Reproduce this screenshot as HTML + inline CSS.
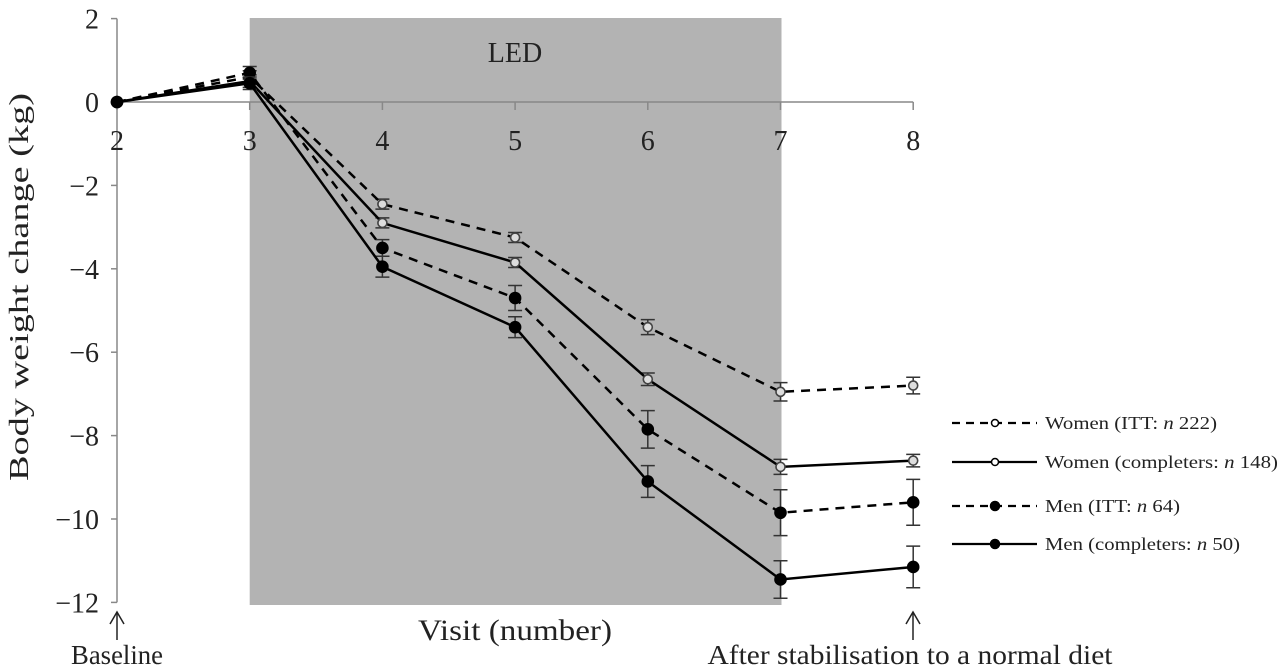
<!DOCTYPE html>
<html><head><meta charset="utf-8"><style>
html,body{margin:0;padding:0;background:#fff;}
svg{display:block;font-family:"Liberation Serif",serif;}
</style></head><body>
<svg id="chart" width="1286" height="668" viewBox="0 0 1286 668" xmlns="http://www.w3.org/2000/svg"></svg>
<script>
const visits = [2,3,4,5,6,7,8];
const yTicks = [2,0,-2,-4,-6,-8,-10,-12];
const yTickLabels = ["2","0","\u22122","\u22124","\u22126","\u22128","\u221210","\u221212"];
const womenITT = [0,0.6,-2.45,-3.25,-5.4,-6.95,-6.8];
const womenITTErr = [0,0.15,0.12,0.12,0.18,0.22,0.2];
const womenComp = [0,0.5,-2.9,-3.85,-6.65,-8.75,-8.6];
const womenCompErr = [0,0.15,0.12,0.12,0.15,0.18,0.15];
const menITT = [0,0.7,-3.5,-4.7,-7.85,-9.85,-9.6];
const menITTErr = [0,0.15,0.2,0.3,0.45,0.55,0.55];
const menComp = [0,0.45,-3.95,-5.4,-9.1,-11.45,-11.15];
const menCompErr = [0,0.15,0.25,0.25,0.38,0.45,0.5];
const seriesNames = ["Women (ITT: ","Women (completers: ","Men (ITT: ","Men (completers: "];
const seriesN = ["222","148","64","50"];

const svg = document.getElementById('chart');
const NS = 'http://www.w3.org/2000/svg';
const X = v => 117 + (v-2)*132.7;
const Y = v => 102 - v*41.7;
function el(tag, attrs, parent){
  const e = document.createElementNS(NS, tag);
  for (const k in attrs) e.setAttribute(k, attrs[k]);
  (parent||svg).appendChild(e);
  return e;
}
let r = el('rect',{x:X(3),y:18,width:X(7)-X(3)+1,height:605-18,fill:'#b3b3b3'});


let t = el('text',{x:515,y:62,'font-size':28,'text-anchor':'middle',fill:'#222'});
t.textContent='LED';


let ya = el('line',{x1:117,y1:Y(2),x2:117,y2:Y(-12),stroke:'#888','stroke-width':1.5});


let xa = el('line',{x1:117,y1:Y(0),x2:X(8),y2:Y(0),stroke:'#888','stroke-width':1.5});


yTicks.forEach((v,i)=>{
  el('line',{x1:111,y1:Y(v),x2:117,y2:Y(v),stroke:'#888','stroke-width':1.5});
  const tl = el('text',{x:99,y:Y(v)+10,'font-size':28,'text-anchor':'end',fill:'#222'});
  tl.textContent = yTickLabels[i];
  
  
});
visits.forEach(v=>{
  el('line',{x1:X(v),y1:Y(0),x2:X(v),y2:Y(0)+8,stroke:'#888','stroke-width':1.5});
  const tl = el('text',{x:X(v),y:Y(0)+48,'font-size':28,'text-anchor':'middle',fill:'#222'});
  tl.textContent = String(v);
  
  
});
let yt = el('text',{x:0,y:0,'font-size':27,'text-anchor':'middle',fill:'#222',transform:'translate(28,287) rotate(-90)',textLength:388,lengthAdjust:'spacingAndGlyphs'});
yt.textContent='Body weight change (kg)';


let xt = el('text',{x:515,y:640,'font-size':30,'text-anchor':'middle',fill:'#222',textLength:194,lengthAdjust:'spacingAndGlyphs'});
xt.textContent='Visit (number)';


function arrow(x,name){
  const g = el('g',{stroke:'#222','stroke-width':1.5,fill:'none'});
  
  
  el('line',{x1:x,y1:612,x2:x,y2:640},g);
  el('polyline',{points:`${x-7},${624} ${x},${612} ${x+7},${624}`},g);
}
arrow(117,'baseline-arrow');
arrow(913,'stabilisation-arrow');
let bl = el('text',{x:117,y:664,'font-size':27,'text-anchor':'middle',fill:'#222',textLength:92,lengthAdjust:'spacingAndGlyphs'});
bl.textContent='Baseline';


let sl = el('text',{x:910,y:664,'font-size':27,'text-anchor':'middle',fill:'#222',textLength:405,lengthAdjust:'spacingAndGlyphs'});
sl.textContent='After stabilisation to a normal diet';



const series = [
  {vals:womenITT, err:womenITTErr, dash:'9,7', filled:false, name:'women-itt'},
  {vals:womenComp, err:womenCompErr, dash:'', filled:false, name:'women-completers'},
  {vals:menITT, err:menITTErr, dash:'9,7', filled:true, name:'men-itt'},
  {vals:menComp, err:menCompErr, dash:'', filled:true, name:'men-completers'}
];
series.forEach(s=>{
  const g = el('g',{});
  
  
  s.vals.forEach((v,i)=>{
    if (!s.err[i]) return;
    const x = X(visits[i]), y1 = Y(v+s.err[i]), y2 = Y(v-s.err[i]);
    const eb = el('path',{d:`M${x},${y1}V${y2}M${x-7},${y1}H${x+7}M${x-7},${y2}H${x+7}`,stroke:'#333','stroke-width':1.5,fill:'none'},g);
    
    
  });
  const pts = s.vals.map((v,i)=>X(visits[i])+','+Y(v)).join(' ');
  const line = el('polyline',{points:pts,fill:'none',stroke:'#000','stroke-width':2.5,'stroke-dasharray':s.dash},g);
  
  
  s.vals.forEach((v,i)=>{
    const c = el('circle',{cx:X(visits[i]),cy:Y(v),r:s.filled?5.5:4.5,fill:s.filled?'#000':'#ddd',stroke:s.filled?'#000':'#444','stroke-width':1.6},g);
    
    
  });
});
const legY = [423,462,506,544];
const legW = [172,233,135,195];
series.forEach((s,i)=>{
  const g = el('g',{});
  
  
  el('line',{x1:952,y1:legY[i],x2:1037,y2:legY[i],stroke:'#000','stroke-width':2.2,'stroke-dasharray':s.dash?'8,6':''},g);
  el('circle',{cx:995,cy:legY[i],r:s.filled?4.5:3.5,fill:s.filled?'#000':'#fff',stroke:'#000','stroke-width':1.5},g);
  const tx = el('text',{x:1045,y:legY[i]+6,'font-size':18,fill:'#222',textLength:legW[i],lengthAdjust:'spacingAndGlyphs'},g);
  tx.appendChild(document.createTextNode(seriesNames[i]));
  const it = el('tspan',{'font-style':'italic'},tx);
  it.textContent='n';
  tx.appendChild(document.createTextNode(' '+seriesN[i]+')'));
});
</script>
</body></html>
